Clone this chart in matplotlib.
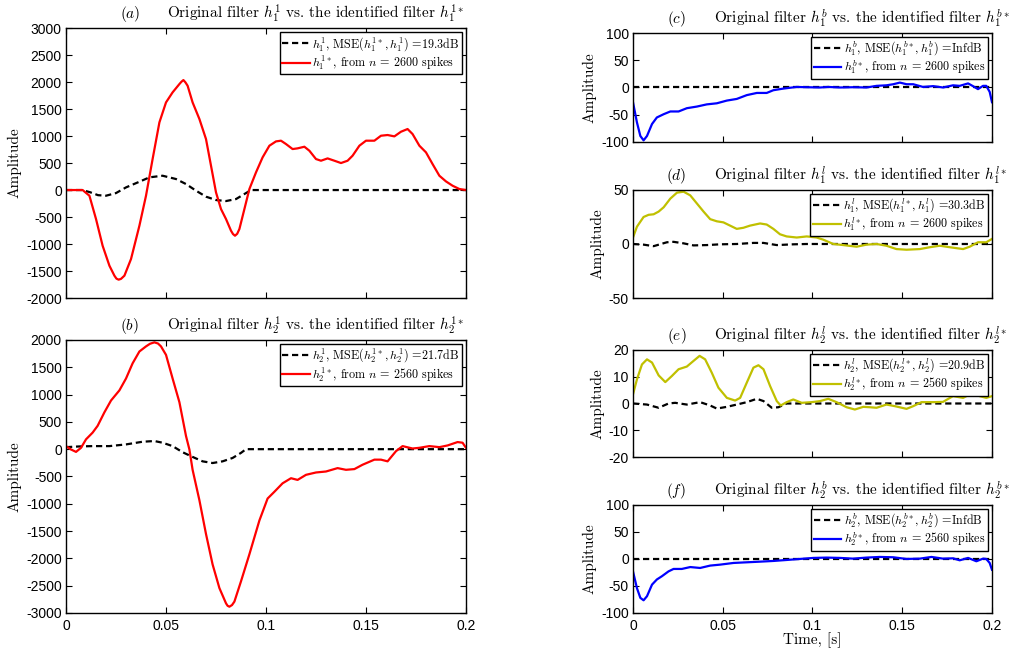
import matplotlib
matplotlib.use("Agg")
import matplotlib.pyplot as plt

# time axis ticks (seconds)
X_TICKS = [0, 0.05, 0.1, 0.15, 0.2]
X_TICK_LABELS = ["0", "0.05", "0.1", "0.15", "0.2"]

# (a) h_1^1 original vs identified
T_A_ORIG = [0, 0.008, 0.012, 0.016, 0.02, 0.025, 0.03, 0.0367, 0.0417, 0.0483, 0.055, 0.06, 0.065, 0.07,
            0.075, 0.08, 0.085, 0.0892, 0.0925, 0.2]
A_ORIG = [0, 0, -40, -95, -105, -56, 49, 154, 235, 265, 204, 111, -12, -123, -185, -204, -167, -74, 0, 0]
T_A_IDENT = [0, 0.0083, 0.0117, 0.015, 0.0183, 0.0217, 0.0242, 0.0252, 0.0263, 0.0275, 0.0292, 0.0325,
             0.0367, 0.04, 0.0433, 0.0467, 0.05, 0.0533, 0.0567, 0.0577, 0.0587, 0.0597, 0.0608, 0.0633,
             0.0667, 0.07, 0.0725, 0.075, 0.0775, 0.08, 0.0825, 0.0835, 0.0845, 0.0856, 0.0867, 0.0892, 0.0917,
             0.095, 0.0983, 0.1017, 0.105, 0.1075, 0.11, 0.1133, 0.1158, 0.1192, 0.1217, 0.125, 0.1275, 0.1308,
             0.1342, 0.1375, 0.1408, 0.1433, 0.1467, 0.15, 0.1542, 0.1575, 0.1608, 0.1642, 0.1675, 0.1708,
             0.1733, 0.1767, 0.18, 0.1833, 0.1867, 0.19, 0.1933, 0.1967, 0.2]
A_IDENT = [0, 0, -105, -537, -1031, -1401, -1586, -1640, -1660, -1645, -1586, -1278, -660, -105, 574, 1253,
           1623, 1809, 1963, 2005, 2037, 1995, 1932, 1623, 1315, 944, 451, -43, -352, -537, -753, -815, -846,
           -810, -722, -352, 19, 327, 605, 821, 901, 914, 852, 759, 772, 802, 728, 574, 543, 586, 543, 500,
           543, 636, 821, 914, 914, 1006, 1019, 994, 1080, 1130, 1037, 821, 698, 481, 265, 160, 80, 19, 0]

# (b) h_2^1
T_B_ORIG = [0, 0.0067, 0.0133, 0.0217, 0.03, 0.0383, 0.0442, 0.0483, 0.0533, 0.0583, 0.0633, 0.0683, 0.0733,
            0.0783, 0.0833, 0.0875, 0.09, 0.2]
B_ORIG = [37, 50, 56, 56, 87, 136, 149, 118, 56, -56, -142, -223, -254, -223, -161, -68, 0, 0]
T_B_IDENT = [0, 0.0025, 0.005, 0.0075, 0.01, 0.0133, 0.0158, 0.0192, 0.0225, 0.0267, 0.03, 0.0333, 0.0367,
             0.04, 0.042, 0.0442, 0.046, 0.0475, 0.05, 0.0533, 0.0567, 0.06, 0.0617, 0.0633, 0.0667, 0.07,
             0.0733, 0.0767, 0.08, 0.0808, 0.0817, 0.083, 0.0842, 0.0875, 0.0917, 0.0967, 0.1008, 0.1042,
             0.1083, 0.1125, 0.1158, 0.12, 0.125, 0.13, 0.1358, 0.14, 0.1442, 0.1483, 0.1542, 0.1575, 0.1608,
             0.165, 0.1683, 0.1733, 0.1767, 0.1817, 0.1867, 0.1908, 0.1958, 0.1983, 0.2]
B_IDENT = [56, -6, -50, 25, 180, 303, 427, 675, 891, 1077, 1294, 1572, 1789, 1882, 1930, 1956, 1935, 1882,
           1727, 1294, 860, 241, -6, -378, -935, -1554, -2111, -2544, -2823, -2868, -2885, -2855, -2792, -2420,
           -1925, -1306, -904, -780, -625, -532, -563, -470, -427, -409, -347, -378, -365, -285, -192, -192,
           -223, -37, 56, 12, 25, 56, 37, 68, 130, 118, 25]

# (c) h_1^b
T_C_ORIG = [0, 0.2]
C_ORIG = [0, 0]
T_C_IDENT = [0, 0.0022, 0.0041, 0.0059, 0.0078, 0.0106, 0.0133, 0.0171, 0.0208, 0.0254, 0.03, 0.0356, 0.0411,
             0.0467, 0.0523, 0.0578, 0.0634, 0.069, 0.0745, 0.0782, 0.0838, 0.0912, 0.0968, 0.1042, 0.1088,
             0.1153, 0.1227, 0.1301, 0.1357, 0.1412, 0.145, 0.1487, 0.1524, 0.1561, 0.1616, 0.1672, 0.1727,
             0.1783, 0.182, 0.1867, 0.1894, 0.1922, 0.195, 0.1968, 0.1987, 0.2]
C_IDENT = [-27, -64, -89, -97, -89, -67, -55, -49, -44, -44, -38, -35, -31, -29, -24, -21, -14, -10, -10, -5,
           -2, 1, 0.5, 0, 1, 0, 0.5, 0, 3, 4, 6, 9, 6, 6, 1, 2.5, 0, 4, 3, 7.5, 2.5, -3, 3, 3, -8, -27]

# (d) h_1^l
T_D_ORIG = [0, 0.0059, 0.0115, 0.0189, 0.0226, 0.0282, 0.0337, 0.0411, 0.0486, 0.0578, 0.0671, 0.0727,
            0.0801, 0.0893, 0.0968, 0.2]
D_ORIG = [0, -0.6, -2, 1.6, 2, 0.6, -1.3, -1, -0.3, 0, 1, 1, -1, -0.3, 0, 0]
T_D_IDENT = [0, 0.0022, 0.0059, 0.0087, 0.0115, 0.0143, 0.0171, 0.0208, 0.0245, 0.0282, 0.0319, 0.0356,
             0.0393, 0.043, 0.0467, 0.0504, 0.0541, 0.0578, 0.0615, 0.0652, 0.0708, 0.0745, 0.0782, 0.0819,
             0.0856, 0.0912, 0.0968, 0.1023, 0.106, 0.1116, 0.1171, 0.1246, 0.1301, 0.1357, 0.1412, 0.1468,
             0.1524, 0.1598, 0.1653, 0.1709, 0.1765, 0.1839, 0.1876, 0.1922, 0.1968, 0.2]
D_IDENT = [6, 16, 25, 27, 27.5, 30, 34, 42, 47.5, 48.4, 45, 37.5, 30, 23, 21, 20, 17, 14, 15, 17, 19, 18, 14,
           9, 7, 6, 7, 6, 4, 0, -1, -2.5, -0.6, 0, -1.6, -4.7, -5.3, -4.7, -3, -1.6, -3, -4.7, -2.5, 1.6, 1.6,
           4.7]

# (e) h_2^l
T_E_ORIG = [0, 0.0078, 0.0143, 0.0198, 0.0235, 0.03, 0.0374, 0.043, 0.0467, 0.0523, 0.0578, 0.0634, 0.069,
            0.0727, 0.0773, 0.081, 0.0856, 0.2]
E_ORIG = [0, -0.4, -1.6, 0, 0.25, -0.4, 0.5, -0.75, -1.9, -1.25, -0.4, 0.5, 1.75, 0.9, -1.6, -1.4, 0, 0]
T_E_IDENT = [0, 0.0022, 0.005, 0.0078, 0.0106, 0.0143, 0.018, 0.0217, 0.0254, 0.03, 0.0337, 0.0371, 0.0402,
             0.0439, 0.0476, 0.0523, 0.0569, 0.0597, 0.0634, 0.0671, 0.0699, 0.0727, 0.0764, 0.0801, 0.0823,
             0.0856, 0.0893, 0.094, 0.0995, 0.1042, 0.1088, 0.1134, 0.119, 0.1236, 0.1283, 0.132, 0.1357,
             0.1412, 0.1459, 0.1524, 0.1561, 0.1607, 0.1672, 0.1727, 0.1783, 0.1839, 0.1894, 0.1931, 0.1968, 0.2]
E_IDENT = [3.4, 9, 14.6, 16.5, 15.3, 10.5, 8, 10.3, 12.8, 13.8, 15.9, 17.8, 16.5, 11.5, 5.9, 2.1, 1.1, 2.1,
           7.8, 13.4, 14.3, 12.8, 6.5, 0.9, -0.75, 0.5, 1.5, 0.25, 0.5, 0.9, 1.75, 0.5, -1.4, -2.25, -1.25,
           -1.4, -1.6, -0.4, -1, -2, -1, 0.5, 0.5, 0.6, 2.75, 2.1, 4, 2.75, 2.1, 2.75]

# (f) h_2^b
T_F_ORIG = [0, 0.2]
F_ORIG = [0, 0]
T_F_IDENT = [0, 0.0022, 0.0041, 0.0059, 0.0078, 0.0106, 0.0133, 0.0161, 0.0198, 0.0226, 0.0272, 0.0319,
             0.0374, 0.043, 0.0486, 0.056, 0.0634, 0.0708, 0.0782, 0.0856, 0.093, 0.1005, 0.1079, 0.1153,
             0.1227, 0.1301, 0.1375, 0.145, 0.1524, 0.1598, 0.1663, 0.1727, 0.1783, 0.182, 0.1867, 0.1913,
             0.195, 0.1968, 0.1987, 0.2]
F_IDENT = [-23, -54, -72, -76.5, -69, -47.5, -38, -32, -23, -18.5, -18.5, -15, -16.7, -12.3, -10.5, -7.4,
           -6.2, -5, -3.7, -1.9, 0, 1.9, 2.5, 1.9, 0.6, 2.5, 3.7, 3.1, 0, 0.6, 3.7, 0.6, 1.2, -2.5, 1.9, -4.3,
           0.6, 0, -7.4, -20]

SERIF = "cmr10"
RED = "#ff0000"
BLUE = "#0000ff"
OLIVE = "#c0c000"

plt.rcParams.update({
    "font.family": "Liberation Sans",
    "font.size": 10,
    "mathtext.fontset": "cm",
    "axes.unicode_minus": False,
    "xtick.direction": "in",
    "ytick.direction": "in",
    "xtick.top": True,
    "ytick.right": True,
    "xtick.major.size": 4,
    "ytick.major.size": 4,
    "xtick.major.width": 0.8,
    "ytick.major.width": 0.8,
    "axes.linewidth": 1.0,
})

# one entry per panel: axes rect, letter, filter names, series, y ticks, legend texts
PANELS = [
    dict(rect=[0.0653, 0.5422, 0.3956, 0.4147], tag="a", h="h_1^1", hs="h_1^{1*}",
         orig=(T_A_ORIG, A_ORIG), ident=(T_A_IDENT, A_IDENT), color=RED,
         yticks=list(range(-2000, 3001, 500)), mse="19.3", n="2600", bottom=False),
    dict(rect=[0.0653, 0.0584, 0.3956, 0.4194], tag="b", h="h_2^1", hs="h_2^{1*}",
         orig=(T_B_ORIG, B_ORIG), ident=(T_B_IDENT, B_IDENT), color=RED,
         yticks=list(range(-3000, 2001, 500)), mse="21.7", n="2560", bottom=True),
    dict(rect=[0.6261, 0.7819, 0.3551, 0.1674], tag="c", h="h_1^b", hs="h_1^{b*}",
         orig=(T_C_ORIG, C_ORIG), ident=(T_C_IDENT, C_IDENT), color=BLUE,
         yticks=[-100, -50, 0, 50, 100], mse="Inf", n="2600", bottom=False),
    dict(rect=[0.6261, 0.5422, 0.3551, 0.1660], tag="d", h="h_1^l", hs="h_1^{l*}",
         orig=(T_D_ORIG, D_ORIG), ident=(T_D_IDENT, D_IDENT), color=OLIVE,
         yticks=[-50, 0, 50], mse="30.3", n="2600", bottom=False),
    dict(rect=[0.6261, 0.2980, 0.3551, 0.1644], tag="e", h="h_2^l", hs="h_2^{l*}",
         orig=(T_E_ORIG, E_ORIG), ident=(T_E_IDENT, E_IDENT), color=OLIVE,
         yticks=[-20, -10, 0, 10, 20], mse="20.9", n="2560", bottom=False),
    dict(rect=[0.6261, 0.0584, 0.3551, 0.1660], tag="f", h="h_2^b", hs="h_2^{b*}",
         orig=(T_F_ORIG, F_ORIG), ident=(T_F_IDENT, F_IDENT), color=BLUE,
         yticks=[-100, -50, 0, 50, 100], mse="Inf", n="2560", bottom=True),
]


# draws one panel with title, legend and axes styling
def draw_panel(fig, p, xlabel=False):
    ax = fig.add_axes(p["rect"])
    orig_label = r"$%s$, MSE$(%s, %s)$ =%sdB" % (p["h"], p["hs"], p["h"], p["mse"])
    ident_label = r"$%s$, from $n$ = %s spikes" % (p["hs"], p["n"])
    ax.plot(p["orig"][0], p["orig"][1], color="k", lw=1.6, linestyle=(0, (2.8, 1.7)), label=orig_label)
    ax.plot(p["ident"][0], p["ident"][1], color=p["color"], lw=1.6, label=ident_label)

    ax.set_xlim(0, 0.2)
    ax.set_ylim(p["yticks"][0], p["yticks"][-1])
    ax.set_xticks(X_TICKS)
    ax.set_yticks(p["yticks"])
    if p["bottom"]:
        ax.set_xticklabels(X_TICK_LABELS)
    else:
        ax.tick_params(labelbottom=False)
    ax.tick_params(axis="y", pad=3)
    ax.tick_params(axis="x", pad=4)
    ax.set_ylabel("Amplitude", family=SERIF, fontsize=11, labelpad=3)
    if xlabel:
        ax.set_xlabel("Time, [s]", family=SERIF, fontsize=11, labelpad=0)

    # title: letter + description, placed relative to the axes centre
    ax.annotate(r"$(%s)$" % p["tag"], xy=(0.5, 1), xycoords="axes fraction", xytext=(-98, 10),
                textcoords="offset points", ha="center", va="center", fontsize=11)
    ax.annotate(r"Original filter $%s$ vs. the identified filter $%s$" % (p["h"], p["hs"]),
                xy=(0.5, 1), xycoords="axes fraction", xytext=(-71, 10), textcoords="offset points",
                ha="left", va="center", family=SERIF, fontsize=11)

    leg = ax.legend(loc="upper right", prop={"family": SERIF, "size": 8.7}, fancybox=False,
                    edgecolor="k", framealpha=1, borderpad=0.2, labelspacing=0.1, handlelength=2.3,
                    handletextpad=0.2, borderaxespad=0.35)
    leg.get_frame().set_linewidth(1.0)
    return ax


def main():
    fig = plt.figure(figsize=(10.11, 6.51), dpi=100)
    for i, p in enumerate(PANELS):
        draw_panel(fig, p, xlabel=(i == len(PANELS) - 1))
    fig.savefig("out.png", dpi=100)


if __name__ == "__main__":
    main()
